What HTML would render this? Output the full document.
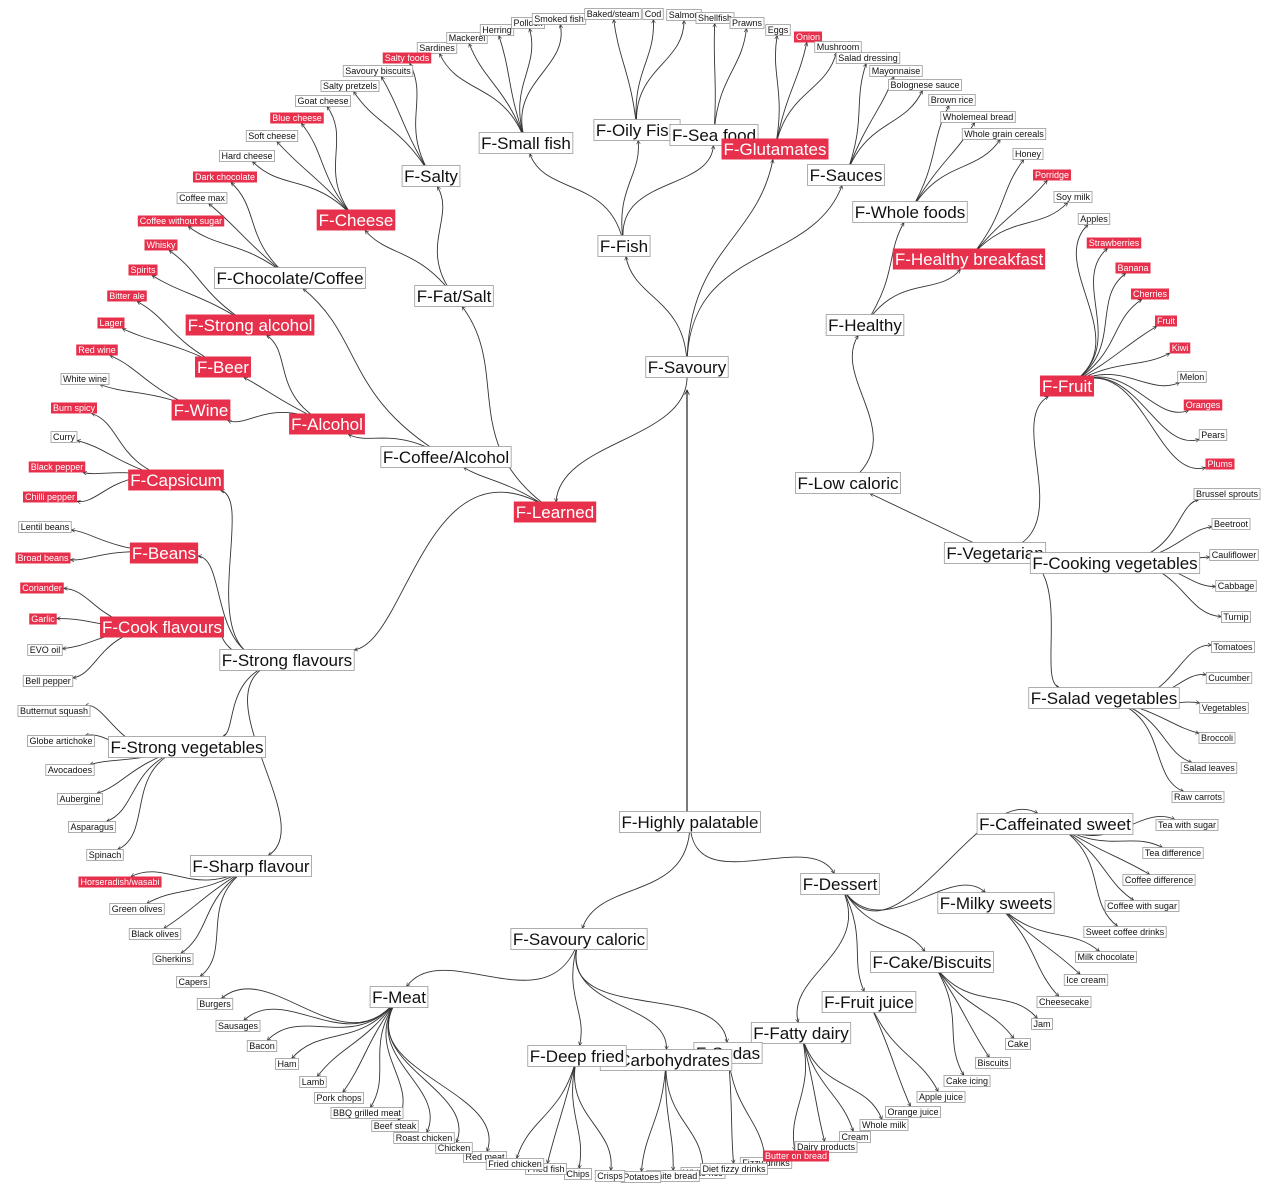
<!DOCTYPE html>
<html><head><meta charset="utf-8"><style>
html,body{margin:0;padding:0;background:#fff;}
svg{display:block;font-family:"Liberation Sans",Arial,sans-serif;}
</style></head><body>
<svg id="s" width="1272" height="1202" viewBox="0 0 1272 1202" xmlns="http://www.w3.org/2000/svg">
<defs><marker id="ar" viewBox="0 0 10 10" refX="9" refY="5" markerWidth="5" markerHeight="5" orient="auto"><path d="M1,1 L9,5 L1,9" fill="none" stroke="#333" stroke-width="1.4"/></marker></defs>
<g id="E"></g><g id="N"></g>
</svg>
<script>
var B={
"F-Savoury":[687,367],"F-Small fish":[526,143],"F-Oily Fish":[637,130],"F-Sea food":[714,135],"F-Glutamates":[775,149,1],
"F-Salty":[431,176],"F-Sauces":[846,175],"F-Fish":[624,246],"F-Whole foods":[910,212],"F-Healthy breakfast":[969,259,1],
"F-Healthy":[865,325],"F-Cheese":[356,220,1],"F-Chocolate/Coffee":[290,278],"F-Fat/Salt":[454,296],"F-Strong alcohol":[250,325,1],
"F-Beer":[223,367,1],"F-Wine":[201,410,1],"F-Alcohol":[327,424,1],"F-Coffee/Alcohol":[446,457],"F-Capsicum":[176,480,1],
"F-Learned":[555,512,1],"F-Beans":[164,553,1],"F-Cook flavours":[162,627,1],"F-Strong flavours":[287,660],
"F-Strong vegetables":[187,747],"F-Sharp flavour":[251,866],"F-Fruit":[1067,386,1],"F-Low caloric":[848,483],
"F-Vegetarian":[995,553],"F-Cooking vegetables":[1115,563],"F-Salad vegetables":[1104,698],"F-Caffeinated sweet":[1055,824],
"F-Highly palatable":[690,822],"F-Dessert":[840,884],"F-Milky sweets":[996,903],"F-Savoury caloric":[579,939],
"F-Cake/Biscuits":[932,962],"F-Fruit juice":[869,1002],"F-Meat":[399,997],"F-Fatty dairy":[801,1033],"F-Sodas":[728,1053],
"F-Carbohydrates":[666,1060],"F-Deep fried":[577,1056]};
var S={
"Sardines":[437,48],"Mackerel":[467,38],"Herring":[497,30],"Pollock":[528,23],"Smoked fish":[559,19],"Baked/steam":[613,14],"Cod":[653,14],"Salmon":[684,15],"Shellfish":[715,18],"Prawns":[747,23],"Eggs":[778,30],"Onion":[808,37,1],"Mushroom":[838,47],"Salad dressing":[868,58],"Mayonnaise":[896,71],"Bolognese sauce":[925,85],"Brown rice":[952,100],"Wholemeal bread":[978,117],"Whole grain cereals":[1004,134],"Honey":[1028,154],"Porridge":[1052,175,1],"Soy milk":[1073,197],"Apples":[1094,219],"Strawberries":[1114,243,1],"Banana":[1133,268,1],"Cherries":[1150,294,1],"Fruit":[1166,321,1],"Kiwi":[1180,348,1],"Melon":[1192,377],"Oranges":[1203,405,1],"Pears":[1213,435],"Plums":[1220,464,1],"Brussel sprouts":[1227,494],"Beetroot":[1231,524],"Cauliflower":[1234,555],"Cabbage":[1236,586],"Turnip":[1236,617],"Tomatoes":[1233,647],"Cucumber":[1229,678],"Vegetables":[1224,708],"Broccoli":[1217,738],"Salad leaves":[1209,768],"Raw carrots":[1198,797],"Tea with sugar":[1187,825],"Tea difference":[1173,853],"Coffee difference":[1159,880],"Coffee with sugar":[1142,906],"Sweet coffee drinks":[1125,932],"Milk chocolate":[1106,957],"Ice cream":[1086,980],"Cheesecake":[1064,1002],"Jam":[1042,1024],"Cake":[1018,1044],"Biscuits":[993,1063],"Cake icing":[967,1081],"Apple juice":[941,1097],"Orange juice":[913,1112],"Whole milk":[884,1125],"Cream":[855,1137],"Dairy products":[826,1147],"Fizzy drinks":[766,1163],"Butter on bread":[796,1156,1],"White rice":[703,1173],"White bread":[673,1176],"Diet fizzy drinks":[734,1169],"Potatoes":[641,1177],"Crisps":[610,1176],"Chips":[578,1174],"Fried fish":[546,1169],"Red meat":[485,1157],"Fried chicken":[515,1164],"Chicken":[454,1148],"Roast chicken":[424,1138],"Beef steak":[395,1126],"BBQ grilled meat":[367,1113],"Pork chops":[339,1098],"Lamb":[313,1082],"Ham":[287,1064],"Bacon":[262,1046],"Sausages":[238,1026],"Burgers":[215,1004],"Capers":[193,982],"Gherkins":[173,959],"Black olives":[155,934],"Green olives":[137,909],"Horseradish/wasabi":[120,882,1],"Spinach":[105,855],"Asparagus":[92,827],"Aubergine":[80,799],"Avocadoes":[70,770],"Globe artichoke":[61,741],"Butternut squash":[54,711],"Bell pepper":[48,681],"EVO oil":[45,650],"Garlic":[43,619,1],"Coriander":[42,588,1],"Broad beans":[43,558,1],"Lentil beans":[45,527],"Chilli pepper":[50,497,1],"Black pepper":[57,467,1],"Curry":[64,437],"Burn spicy":[74,408,1],"White wine":[85,379],"Red wine":[97,350,1],"Lager":[111,323,1],"Bitter ale":[127,296,1],"Spirits":[143,270,1],"Whisky":[161,245,1],"Coffee without sugar":[181,221,1],"Coffee max":[202,198],"Dark chocolate":[225,177,1],"Hard cheese":[247,156],"Soft cheese":[272,136],"Blue cheese":[297,118,1],"Goat cheese":[323,101],"Salty pretzels":[350,86],"Savoury biscuits":[378,71],"Salty foods":[407,58,1]};
var T=[
["F-Savoury","F-Fish","F-Glutamates","F-Sauces"],
["F-Fish","F-Small fish","F-Oily Fish","F-Sea food"],
["F-Small fish","Sardines","Mackerel","Herring","Pollock","Smoked fish"],
["F-Oily Fish","Baked/steam","Cod","Salmon"],
["F-Sea food","Shellfish","Prawns"],
["F-Glutamates","Eggs","Onion","Mushroom"],
["F-Sauces","Salad dressing","Mayonnaise","Bolognese sauce"],
["F-Healthy","F-Whole foods","F-Healthy breakfast"],
["F-Whole foods","Brown rice","Wholemeal bread","Whole grain cereals"],
["F-Healthy breakfast","Honey","Porridge","Soy milk"],
["F-Low caloric","F-Healthy"],
["F-Vegetarian","F-Low caloric","F-Fruit","F-Cooking vegetables","F-Salad vegetables"],
["F-Fruit","Apples","Strawberries","Banana","Cherries","Fruit","Kiwi","Melon","Oranges","Pears","Plums"],
["F-Cooking vegetables","Brussel sprouts","Beetroot","Cauliflower","Cabbage","Turnip"],
["F-Salad vegetables","Tomatoes","Cucumber","Vegetables","Broccoli","Salad leaves","Raw carrots"],
["F-Fat/Salt","F-Salty","F-Cheese"],
["F-Salty","Salty foods","Savoury biscuits","Salty pretzels"],
["F-Cheese","Goat cheese","Blue cheese","Soft cheese","Hard cheese"],
["F-Coffee/Alcohol","F-Chocolate/Coffee","F-Alcohol"],
["F-Chocolate/Coffee","Dark chocolate","Coffee max","Coffee without sugar"],
["F-Alcohol","F-Strong alcohol","F-Beer","F-Wine"],
["F-Strong alcohol","Whisky","Spirits"],["F-Beer","Bitter ale","Lager"],["F-Wine","Red wine","White wine"],
["F-Learned","F-Coffee/Alcohol","F-Fat/Salt","F-Strong flavours"],
["F-Strong flavours","F-Capsicum","F-Beans","F-Cook flavours","F-Strong vegetables","F-Sharp flavour"],
["F-Capsicum","Burn spicy","Curry","Black pepper","Chilli pepper"],
["F-Beans","Lentil beans","Broad beans"],
["F-Cook flavours","Coriander","Garlic","EVO oil","Bell pepper"],
["F-Strong vegetables","Butternut squash","Globe artichoke","Avocadoes","Aubergine","Asparagus","Spinach"],
["F-Sharp flavour","Horseradish/wasabi","Green olives","Black olives","Gherkins","Capers"],
["F-Highly palatable","F-Savoury caloric","F-Dessert"],
["F-Savoury caloric","F-Meat","F-Deep fried","F-Carbohydrates","F-Sodas"],
["F-Meat","Burgers","Sausages","Bacon","Ham","Lamb","Pork chops","BBQ grilled meat","Beef steak","Roast chicken","Chicken","Red meat"],
["F-Deep fried","Fried chicken","Fried fish","Chips","Crisps"],
["F-Carbohydrates","Potatoes","White bread","White rice"],
["F-Sodas","Fizzy drinks","Diet fizzy drinks"],
["F-Dessert","F-Caffeinated sweet","F-Milky sweets","F-Cake/Biscuits","F-Fruit juice","F-Fatty dairy"],
["F-Caffeinated sweet","Tea with sugar","Tea difference","Coffee difference","Coffee with sugar","Sweet coffee drinks"],
["F-Milky sweets","Milk chocolate","Ice cream","Cheesecake"],
["F-Cake/Biscuits","Jam","Cake","Biscuits","Cake icing"],
["F-Fruit juice","Apple juice","Orange juice"],
["F-Fatty dairy","Whole milk","Cream","Dairy products","Butter on bread"]];
var NS="http://www.w3.org/2000/svg",E=document.getElementById("E"),N=document.getElementById("N");
var info={};
function mk(t,a){var e=document.createElementNS(NS,t);for(var k in a)e.setAttribute(k,a[k]);return e;}
function add(name,v,big){
 var fs=big?17:9,g=mk("g",{});N.appendChild(g);
 var r=mk("rect",{});g.appendChild(r);
 var tx=mk("text",{x:v[0],y:v[1]+fs*0.36,"font-size":fs,"text-anchor":"middle",fill:v[2]?"#fff":"#111"});
 tx.textContent=name;g.appendChild(tx);
 var w=tx.getComputedTextLength()+4,h=big?21:11;
 r.setAttribute("x",v[0]-w/2);r.setAttribute("y",v[1]-h/2);r.setAttribute("width",w);r.setAttribute("height",h);
 if(v[2]){r.setAttribute("fill","#e6304c");}else{r.setAttribute("fill","#fff");r.setAttribute("stroke","#999");r.setAttribute("stroke-width","0.8");}
 info[name]={x:v[0],y:v[1],hw:w/2,hh:h/2};
}
for(var k in S)add(k,S[k],0);
for(var k in B)add(k,B[k],1);
var CX=687,CY=600;
function rad(x,y){var dx=x-CX,dy=y-CY,l=Math.hypot(dx,dy)||1;return[dx/l,dy/l];}
function edge(p,c){
 var P=info[p],C=info[c];var dx=C.x-P.x,dy=C.y-P.y,d=Math.hypot(dx,dy);
 var rp=rad(P.x,P.y),rc=rad(C.x,C.y);
 var c1;if(rp[0]*dx+rp[1]*dy<0.2*d){c1=[P.x+dx*0.3,P.y+dy*0.3];}else c1=[P.x+rp[0]*d*0.5,P.y+rp[1]*d*0.5];
 var c2;if(rc[0]*dx+rc[1]*dy<0.2*d){c2=[C.x-dx*0.3,C.y-dy*0.3];}else c2=[C.x-rc[0]*d*0.4,C.y-rc[1]*d*0.4];
 var ux=c2[0]-C.x,uy=c2[1]-C.y,t=Math.min(C.hw/Math.max(Math.abs(ux),1e-6),C.hh/Math.max(Math.abs(uy),1e-6));
 var ex=C.x+ux*t,ey=C.y+uy*t;
 E.appendChild(mk("path",{d:"M"+P.x+","+P.y+" C"+c1[0]+","+c1[1]+" "+c2[0]+","+c2[1]+" "+ex+","+ey,fill:"none",stroke:"#333","stroke-width":"0.9","marker-end":"url(#ar)"}));
}
T.forEach(function(r){for(var i=1;i<r.length;i++)edge(r[0],r[i]);});
E.appendChild(mk("path",{d:"M687,375 C690,440 560,440 556,502",fill:"none",stroke:"#333","stroke-width":"0.9","marker-end":"url(#ar)"}));
E.appendChild(mk("path",{d:"M687,812 L687,390",stroke:"#222","stroke-width":"1.2","marker-end":"url(#ar)"}));
</script>
</body></html>
